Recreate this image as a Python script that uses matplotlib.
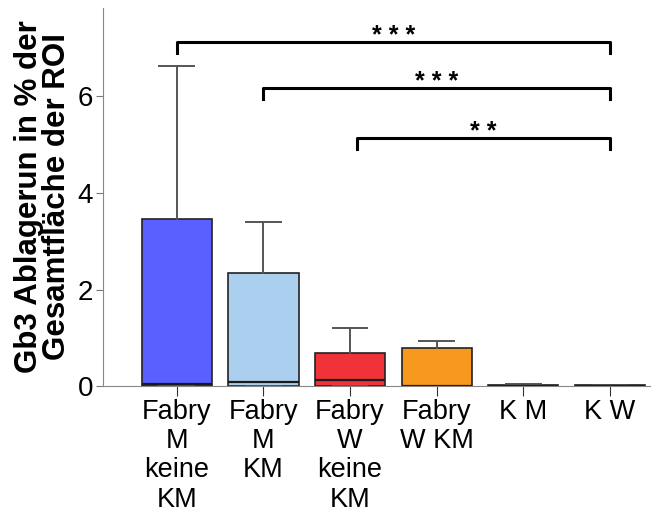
import numpy as np
import matplotlib.pyplot as plt

plt.rcParams['font.family'] = ['Liberation Sans', 'DejaVu Sans']

# Daten
gruppen = ['Fabry\nM\nkeine\nKM', 'Fabry\nM\nKM', 'Fabry\nW\nkeine\nKM', 'Fabry\nW KM', 'K M', 'K W']
unten = [0.0, 0.0, 0.0, 0.0, 0.0, 0.0]
q1 = [0.0, 0.0, 0.0, 0.0, 0.0, 0.0]
median = [0.05, 0.09, 0.12, 0.01, 0.01, 0.005]
q3 = [3.46, 2.34, 0.68, 0.79, 0.03, 0.02]
oben = [6.62, 3.40, 1.20, 0.93, 0.04, 0.025]
farben = ['#5a5fff', '#abcfee', '#ef3339', '#f7991f', '#333333', '#333333']

# Signifikanz: (links, rechts, hoehe, sterne)
vergleiche = [(1, 6, 7.12, '* * *'), (2, 6, 6.17, '* * *'), (3.08, 6, 5.13, '* *')]

fig = plt.figure(figsize=(6.63, 5.17), dpi=100)
ax = fig.add_axes([0.155, 0.253, 0.825, 0.732])

stats = []
for i in range(len(gruppen)):
    stats.append(dict(whislo=unten[i], q1=q1[i], med=median[i], q3=q3[i], whishi=oben[i], fliers=[]))

pos = np.arange(1, len(gruppen) + 1)
bp = ax.bxp(stats, positions=pos, widths=0.81, capwidths=0.4, patch_artist=True,
            boxprops=dict(edgecolor='#222222', linewidth=1.2),
            medianprops=dict(color='#1a1a1a', linewidth=1.6),
            whiskerprops=dict(color='#555555', linewidth=1.4),
            capprops=dict(color='#555555', linewidth=1.4))
for patch, c in zip(bp['boxes'], farben):
    patch.set_facecolor(c)

for links, rechts, h, sterne in vergleiche:
    ax.plot([links, links, rechts, rechts], [h - 0.22, h, h, h - 0.22], color='black', lw=2.2, clip_on=False)
    ax.text((links + rechts) / 2, h - 0.02, sterne, ha='center', va='baseline', fontsize=18, fontweight='bold')

ax.set_xlim(0.145, 6.46)
ax.set_ylim(0, 7.83)
ax.set_yticks([0, 2, 4, 6])
ax.set_xticks(pos)
ax.set_xticklabels(gruppen, fontsize=19.5, linespacing=1.17)
ax.tick_params(axis='y', labelsize=20, color='#777777', length=5, pad=2)
ax.tick_params(axis='x', color='#333333', length=7, pad=2)
for s in ['top', 'right']:
    ax.spines[s].set_visible(False)
for s in ['left', 'bottom']:
    ax.spines[s].set_color('#888888')

ax.set_ylabel('Gb3 Ablagerun in % der\nGesamtfläche der ROI', fontsize=22.5, fontweight='bold',
              linespacing=0.92, labelpad=4)

plt.savefig('out.png')
